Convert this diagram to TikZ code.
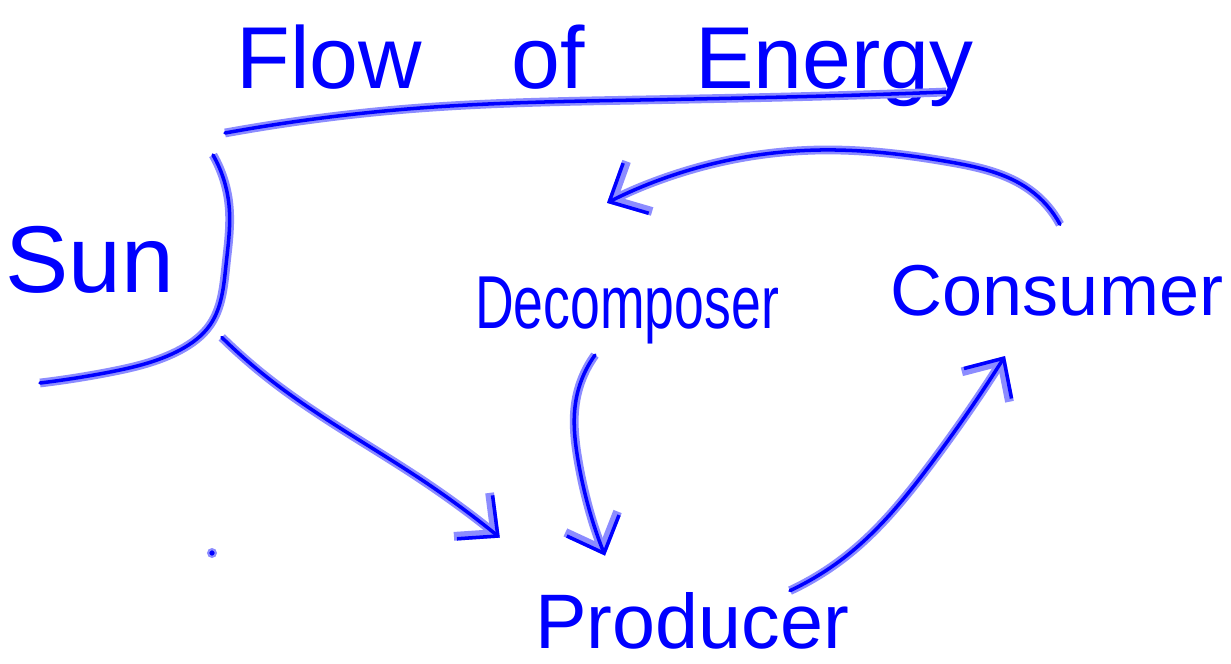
\documentclass[tikz,border=0pt]{standalone}
\usepackage{fontspec}
\setmainfont{Liberation Sans}
\usetikzlibrary{
  hobby,
  arrows.meta
}
\definecolor{ink}{RGB}{0,0,255}
\definecolor{inkhalo}{RGB}{140,140,255}
\tikzset{
  use Hobby shortcut,
  pen/.style={
    draw=ink,
    line width=2pt,
    line cap=round,
    line join=round,
    preaction={draw=inkhalo, line width=5pt}
  },
  flow/.style={
    pen,
    -{Straight Barb[length=17pt,width=32pt]}
  },
  word/.style={
    text=ink,
    inner sep=0pt,
    anchor=base
  }
}

\begin{document}
\begin{tikzpicture}[x=0.02cm,y=-0.02cm]
  \useasboundingbox[fill=white] (0,0) rectangle (1231,663);
  \node[word,font=\fontsize{50}{52}\selectfont] (title) at (605,88) {Flow\hspace{1.8cm}of\hspace{2.2cm}Energy};
  \node[word,font=\fontsize{54}{60}\selectfont] (sun) at (90,292) {Sun};
  \node[word,font=\fontsize{30.5}{34}\selectfont,yscale=1.4] (decomp) at (627,328) {Decomposer};
  \node[word,font=\fontsize{41}{46}\selectfont] (cons) at (1057,315) {Consumer};
  \node[word,font=\fontsize{44}{50}\selectfont] (prod) at (692,648) {Producer};
  % underline and the sun's rays
  \draw[pen] (225,133) .. (420,108) .. (640,100) .. (860,95) .. (946,92);
  \draw[pen] (213,155) .. (229,205) .. (226,265) .. (210,325) .. (180,350) .. (110,372) .. (40,383);
  \fill[ink,draw=inkhalo,line width=1.2pt] (212,553) circle (2.2pt);
  % energy flow
  \draw[flow] ([shift={(47,78)}]sun.east) .. (268,378) .. (340,428) .. (425,482) .. ([shift={(-35,-54)}]prod.north west);
  \draw[flow] ([shift={(-32,11)}]decomp.south) .. (576,400) .. (578,460) .. ([shift={(-87,-36)}]prod.north);
  \draw[flow] ([shift={(98,-1)}]prod.north) .. (850,553) .. (930,465) .. ([shift={(-52,40)}]cons.south);
  \draw[flow] ([shift={(3,-40)}]cons.north) .. (1030,190) .. (950,162) .. (820,150) .. (700,167) .. ([shift={(-20,-73)}]decomp.north);
\end{tikzpicture}
\end{document}
